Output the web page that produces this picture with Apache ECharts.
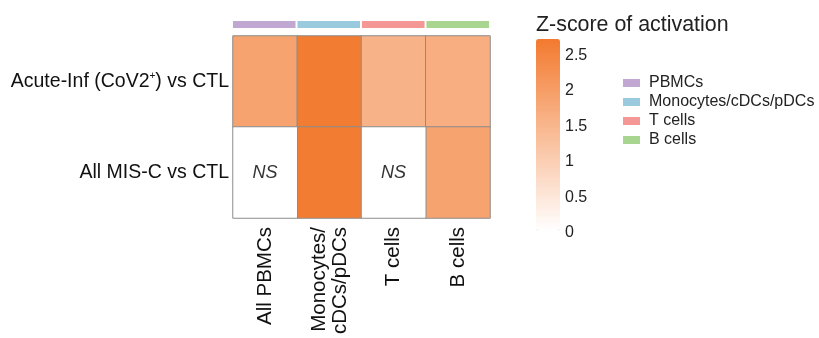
<!DOCTYPE html>
<html>
<head>
<meta charset="utf-8">
<script src="https://cdn.jsdelivr.net/npm/echarts@6/dist/echarts.min.js"></script>
<style>
  html, body { margin: 0; padding: 0; background: #fff; }
  #chart { width: 819px; height: 338px; }
</style>
</head>
<body>
<div id="chart"></div>
<script>
// Cell types (columns) and contrasts (rows)
const cellTypes = ['All PBMCs', 'Monocytes/\ncDCs/pDCs', 'T cells', 'B cells'];
const contrasts = ['Acute-Inf (CoV2+) vs CTL', 'All MIS-C vs CTL'];

// Z-score of activation per contrast; null = not significant (NS)
const acuteZ = [1.87, 2.65, 1.56, 1.64];
const miscZ = [null, 2.65, null, 1.87];

// Cell-group annotation strip and legend
const groupNames = ['PBMCs', 'Monocytes/cDCs/pDCs', 'T cells', 'B cells'];
const groupColors = ['#C1A8D3', '#99CADD', '#F59795', '#A8D590'];

// Colour scale
const zMin = 0;
const zMax = 2.7;
const scaleTicks = 0.5;

const font = '"Liberation Sans", Arial, sans-serif';
const rows = [acuteZ, miscZ];

const cells = [];
const nsCells = [];
rows.forEach((vals, r) => {
  vals.forEach((v, c) => {
    if (v === null) nsCells.push([c, r, 0]);
    else cells.push([c, r, v]);
  });
});

const stripSeries = groupNames.map((name, i) => ({
  name: name,
  type: 'bar',
  xAxisIndex: 1,
  yAxisIndex: 1,
  barGap: '-100%',
  barCategoryGap: '3%',
  itemStyle: { color: groupColors[i] },
  data: cellTypes.map((_, j) => (j === i ? 1 : '-')),
  silent: true
}));

const chart = echarts.init(document.getElementById('chart'));
chart.setOption({
  animation: false,
  backgroundColor: '#fff',
  textStyle: { fontFamily: font },
  title: {
    text: 'Z-score of activation',
    left: 536,
    top: 15,
    padding: 0,
    textStyle: { fontFamily: font, fontSize: 21.4, fontWeight: 'normal', color: '#222' }
  },
  legend: {
    data: groupNames,
    orient: 'vertical',
    left: 618,
    top: 70,
    itemWidth: 17,
    itemHeight: 8,
    itemGap: 3,
    icon: 'rect',
    selectedMode: false,
    textStyle: { fontFamily: font, fontSize: 16, color: '#222', padding: [0, 0, 0, 4] }
  },
  grid: [
    { left: 233, top: 36, width: 257, height: 182, show: false },
    { left: 232, top: 21, width: 258, height: 7, show: false },
    { left: 536, top: 41, width: 24, height: 192, show: false }
  ],
  xAxis: [
    {
      type: 'category',
      gridIndex: 0,
      data: cellTypes,
      axisLine: { show: false },
      axisTick: { show: false },
      splitLine: { show: false },
      axisLabel: {
        rotate: 90,
        margin: 9,
        fontFamily: font,
        fontSize: 20.5,
        lineHeight: 21,
        color: '#111'
      }
    },
    { type: 'category', gridIndex: 1, data: cellTypes, show: false },
    { type: 'value', gridIndex: 2, show: false }
  ],
  yAxis: [
    {
      type: 'category',
      gridIndex: 0,
      data: contrasts,
      inverse: true,
      axisLine: { show: false },
      axisTick: { show: false },
      splitLine: { show: false },
      axisLabel: {
        margin: 4,
        fontFamily: font,
        fontSize: 19.5,
        color: '#111',
        formatter: (s) => s.replace('CoV2+', 'CoV2{sup|+}'),
        rich: {
          sup: { fontFamily: font, fontSize: 10, color: '#111', verticalAlign: 'top', padding: [0, 0, 9, 0] }
        }
      }
    },
    { type: 'value', gridIndex: 1, min: 0, max: 1, show: false },
    {
      type: 'value',
      gridIndex: 2,
      min: zMin,
      max: zMax,
      interval: scaleTicks,
      position: 'right',
      axisLine: { show: false },
      axisTick: { show: false },
      splitLine: { show: false },
      axisLabel: {
        showMaxLabel: false,
        margin: 5,
        fontFamily: font,
        fontSize: 16,
        color: '#222'
      }
    }
  ],
  visualMap: {
    type: 'continuous',
    seriesIndex: 0,
    min: zMin,
    max: zMax,
    calculable: false,
    showLabel: false,
    text: null,
    left: 536,
    top: 39,
    padding: 0,
    itemWidth: 24,
    itemHeight: 192,
    inRange: { color: ['#ffffff', '#F37A2F'] }
  },
  series: [
    {
      name: 'Z-score',
      type: 'heatmap',
      xAxisIndex: 0,
      yAxisIndex: 0,
      data: cells,
      itemStyle: { borderColor: '#8c8c8c', borderWidth: 1 },
      emphasis: { disabled: true }
    },
    {
      name: 'NS',
      type: 'heatmap',
      xAxisIndex: 0,
      yAxisIndex: 0,
      data: nsCells,
      itemStyle: { color: '#ffffff', borderColor: '#8c8c8c', borderWidth: 1 },
      label: {
        show: true,
        formatter: 'NS',
        fontFamily: font,
        fontSize: 18,
        fontStyle: 'italic',
        color: '#333'
      },
      emphasis: { disabled: true }
    }
  ].concat(stripSeries)
});
</script>
</body>
</html>
